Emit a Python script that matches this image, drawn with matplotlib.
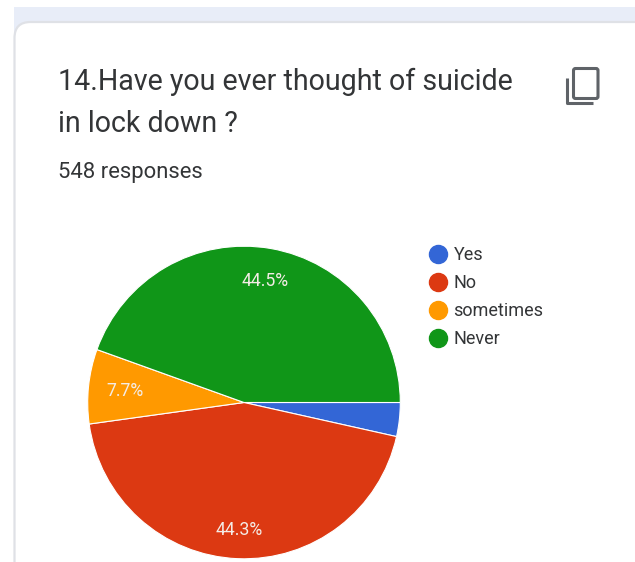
import matplotlib

matplotlib.use("Agg")
import matplotlib.pyplot as plt
from matplotlib.patches import FancyBboxPatch, Rectangle

WIDTH, HEIGHT = 635, 562

categories = ["Yes", "No", "sometimes", "Never"]
shares = [3.5, 44.3, 7.7, 44.5]
colors = ["#3366d6", "#dc3912", "#ff9900", "#109618"]
title_lines = ["14.Have you ever thought of suicide", "in lock down ?"]
subtitle = "548 responses"

INK = "#333537"
ICON = "#5f6368"


def flip(y):
    # layout below is measured from the top edge
    return HEIGHT - y


def pct_label(pct):
    return f"{pct:.1f}%" if pct > 5 else ""


plt.rcParams["font.family"] = ["Roboto", "DejaVu Sans"]

fig = plt.figure(figsize=(WIDTH / 100, HEIGHT / 100), dpi=100)
ax = fig.add_axes([0, 0, 1, 1])

# page strip and card
ax.add_patch(Rectangle((13.5, flip(40)), WIDTH, 33, color="#e8edf8", lw=0, zorder=0))
ax.add_patch(
    FancyBboxPatch(
        (14.5 + 16, flip(640)),
        700,
        640 - 22 - 16,
        boxstyle="round,pad=16,rounding_size=16",
        fc="white",
        ec="#dfe1e6",
        lw=1.6,
        zorder=1,
    )
)

ax.text(58, flip(90), title_lines[0], fontsize=20.62, color=INK, va="baseline", zorder=3)
ax.text(58, flip(132), title_lines[1], fontsize=20.62, color=INK, va="baseline", zorder=3)
ax.text(58, flip(178), subtitle, fontsize=15.8, color=INK, va="baseline", zorder=3)

# copy icon
ax.add_patch(
    FancyBboxPatch(
        (573.5, flip(98.5)),
        24.5,
        30,
        boxstyle="round,pad=0,rounding_size=2",
        fc="none",
        ec=ICON,
        lw=2.2,
        zorder=3,
    )
)
ax.plot(
    [566.8, 566.8, 593],
    [flip(78), flip(103), flip(103)],
    color=ICON,
    lw=2.2,
    solid_capstyle="butt",
    zorder=3,
)

wedges, _, pct_texts = ax.pie(
    shares,
    colors=colors,
    startangle=0,
    counterclock=False,
    center=(244, flip(402.5)),
    radius=156.3,
    autopct=pct_label,
    pctdistance=0.79,
    frame=True,
    wedgeprops={"edgecolor": "white", "linewidth": 0.8},
    textprops={"color": "#f4ece6", "fontsize": 12.7},
)
for wedge in wedges:
    wedge.set_zorder(2)
for text in pct_texts:
    text.set_zorder(3)
pct_texts[1].set_y(flip(530))
pct_texts[2].set_position((125, flip(391)))
ax.set_xlim(0, WIDTH)
ax.set_ylim(0, HEIGHT)
ax.set_aspect("equal")
ax.axis("off")

legend_y = [253.5, 281.5, 309.5, 337.5]
for color, name, y in zip(colors, categories, legend_y):
    ax.plot(438, flip(y), "o", ms=13, mfc=color, mec=color, zorder=3)
    ax.text(453.5, flip(y), name, fontsize=13, color=INK, va="center_baseline", zorder=3)

fig.savefig("out.png", dpi=100)
plt.close(fig)
